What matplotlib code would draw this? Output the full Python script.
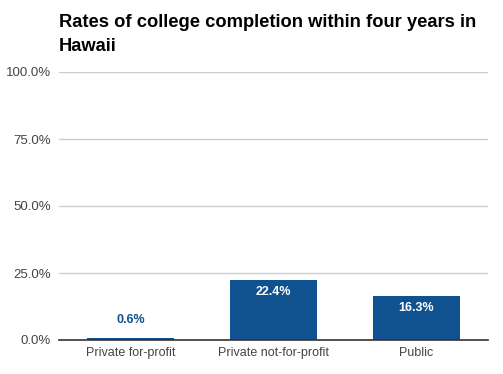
import matplotlib
matplotlib.use("Agg")
import matplotlib.pyplot as plt
from matplotlib.ticker import FuncFormatter

categories = ["Private for-profit", "Private not-for-profit", "Public"]
values = [0.6, 22.4, 16.3]
yticks = [0, 25, 50, 75, 100]

bar_color = "#10518f"
plt.rcParams['font.family'] = ['Liberation Sans', 'DejaVu Sans']

fig = plt.figure(figsize=(5.03, 3.74), dpi=100)
ax = fig.add_axes([59/503, 34/374, (488-59)/503, (340-72)/374])

x = list(range(len(categories)))
bars = ax.bar(x, values, width=0.615, color=bar_color, zorder=3)
ax.set_xlim(-0.5, 2.5)
ax.set_ylim(0, 100)
ax.set_yticks(yticks)
ax.yaxis.set_major_formatter(FuncFormatter(lambda v, p: f"{v:.1f}%"))
ax.set_xticks(x)
ax.set_xticklabels(categories)
ax.grid(axis='y', color='#cccccc', linewidth=1, zorder=0)
for s in ['top', 'right', 'left']:
    ax.spines[s].set_visible(False)
ax.spines['bottom'].set_color('#333333')
ax.spines['bottom'].set_linewidth(1.2)
ax.spines['bottom'].set_zorder(4)
ax.tick_params(axis='both', length=0, labelsize=9, colors='#444444')
ax.tick_params(axis='y', pad=6, labelsize=9.5)
ax.tick_params(axis='x', pad=5)

for xi, v in zip(x, values):
    if v > 8:
        ax.annotate(f"{v}%", (xi, v), xytext=(0, -4), textcoords='offset points',
                    ha='center', va='top', color='white', fontsize=9, fontweight='bold', zorder=5)
    else:
        ax.annotate(f"{v}%", (xi, v), xytext=(0, 9), textcoords='offset points',
                    ha='center', va='bottom', color=bar_color, fontsize=9, fontweight='bold', zorder=5)

fig.text(59/503, 1 - 14/374, "Rates of college completion within four years in\nHawaii",
         ha='left', va='top', fontsize=13.2, fontweight='bold', color='black', linespacing=1.55)

fig.savefig("out.png", dpi=100, facecolor='white')
